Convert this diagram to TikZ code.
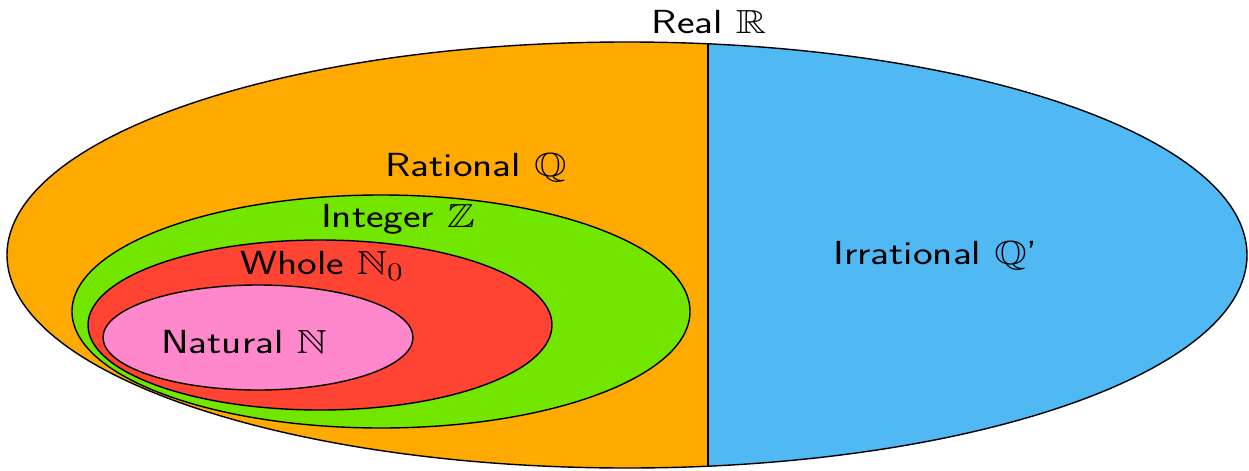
\documentclass[tikz,border=0pt]{standalone}
\usepackage{amssymb}
\definecolor{ratorange}{HTML}{FFAA00}
\definecolor{irrblue}{HTML}{50B8F2}
\definecolor{intgreen}{HTML}{73E600}
\definecolor{wholered}{HTML}{FF4433}
\definecolor{natpink}{HTML}{FF88CC}
\tikzset{
    setname/.style={font=\sffamily\fontsize{19}{22}\selectfont, inner sep=1pt, xscale=1.25},
    setrim/.style={draw=black, line width=0.8pt}
}

\begin{document}
\begin{tikzpicture}
    \useasboundingbox (0,0) rectangle (24.98,9.4);
    % Define the centre of the reals and the ends of the split line
    \coordinate (O) at (12.54,4.30);
    \coordinate (T) at (14.16,8.523);
    \coordinate (B) at (14.16,0.077);

    % Rational part (left) and irrational part (right)
    \begin{scope}
        \clip (0,0) rectangle (14.16,9.4);
        \fill[ratorange] (O) ellipse [x radius=12.4, y radius=4.26];
    \end{scope}
    \begin{scope}
        \clip (14.16,0) rectangle (24.98,9.4);
        \fill[irrblue] (O) ellipse [x radius=12.4, y radius=4.26];
    \end{scope}
    \draw[setrim] (O) ellipse [x radius=12.4, y radius=4.26];

    % Nested sets inside the rationals
    \draw[setrim, fill=intgreen] (7.62,3.17) ellipse [x radius=6.18, y radius=2.33];
    \draw[setrim, fill=wholered] (6.40,2.90) ellipse [x radius=4.64, y radius=1.70];
    \draw[setrim, fill=natpink] (5.16,2.65) ellipse [x radius=3.10, y radius=1.05];

    % Split line
    \draw[line width=1.5pt] (T) -- (B);

    % Labels
    \node[setname] (real) at (14.18,8.96) {Real $\mathbb{R}$};
    \node[setname] (rational) at (9.52,6.04) {Rational $\mathbb{Q}$};
    \node[setname] (integer) at (7.96,5.02) {Integer $\mathbb{Z}$};
    \node[setname] (whole) at (6.44,4.08) {Whole $\mathbb{N}_0$};
    \node[setname] (natural) at (4.88,2.56) {Natural $\mathbb{N}$};
    \node[setname] (irrational) at (18.71,4.28) {Irrational $\mathbb{Q}$'};
\end{tikzpicture}
\end{document}
